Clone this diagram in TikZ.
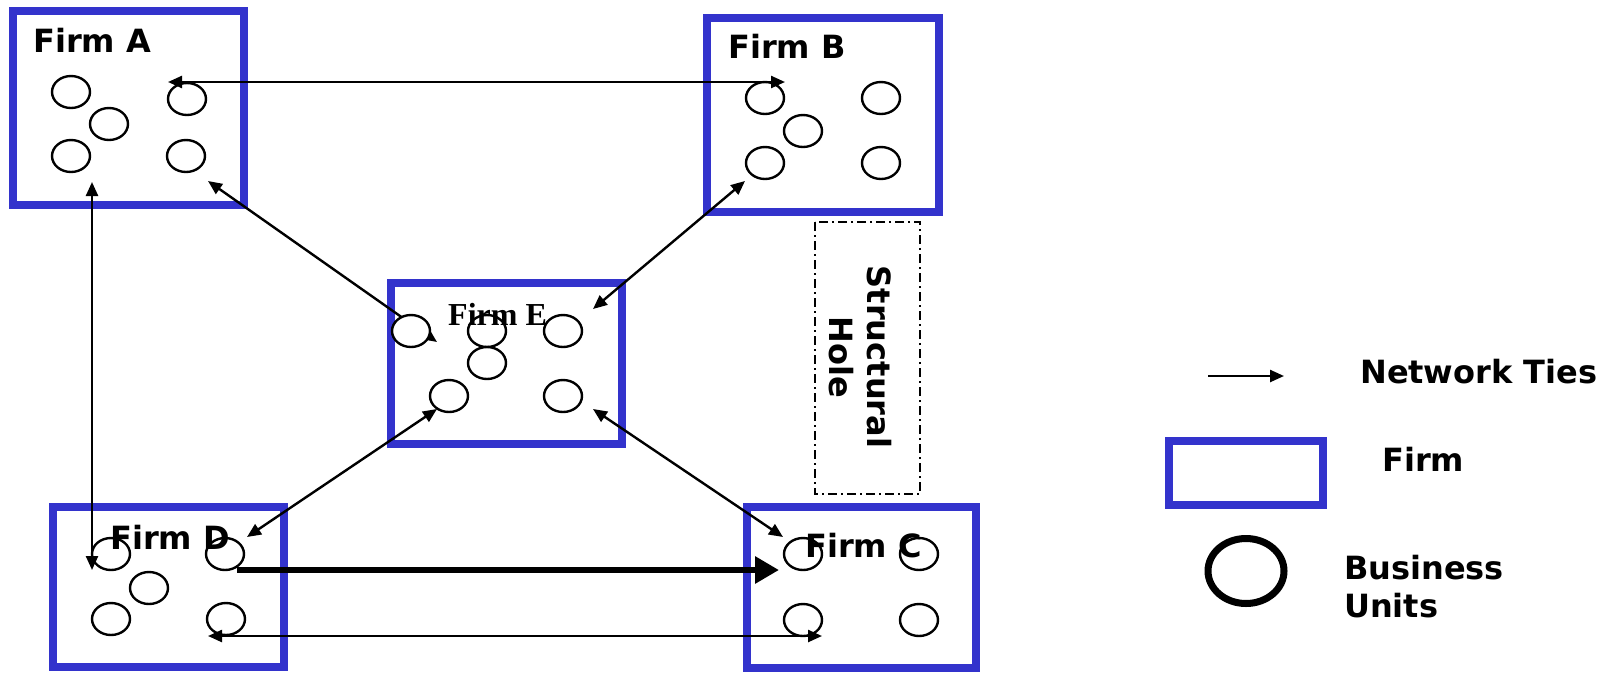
\documentclass[tikz,border=0pt]{standalone}
\usepackage{fontspec}
\setmainfont{DejaVu Sans}
\newfontfamily\timesf{Liberation Serif}
\usetikzlibrary{arrows.meta,shapes.geometric}
\definecolor{firmblue}{RGB}{51,51,204}
\tikzset{
  firmbox/.style={draw=firmblue,line width=8pt,inner sep=0pt,outer sep=0pt,anchor=north west},
  bu/.style={ellipse,draw,line width=2.4pt,fill=white,minimum width=38pt,minimum height=32pt,inner sep=0pt},
  tie/.style={line width=2.4pt,-{Triangle[length=14pt,width=12pt]}},
  tieboth/.style={line width=2.4pt,{Triangle[length=14pt,width=12pt]}-{Triangle[length=14pt,width=12pt]}},
  bigtie/.style={line width=6.5pt,-{Triangle[length=24pt,width=26pt]}},
  lbl/.style={font=\fontsize{32}{38}\selectfont\bfseries,inner sep=0pt,anchor=base west},
}
\begin{document}
\begin{tikzpicture}[x=1pt,y=-1pt]
\useasboundingbox[fill=white] (0,0) rectangle (1609,673);
% firms
\node[firmbox,minimum width=231pt,minimum height=194pt] (A) at (13,11) {};
\node[firmbox,minimum width=232pt,minimum height=194pt] (B) at (707,18) {};
\node[firmbox,minimum width=231pt,minimum height=161pt] (E) at (391,283) {};
\node[firmbox,minimum width=231pt,minimum height=160pt] (D) at (53,507) {};
\node[firmbox,minimum width=229pt,minimum height=161pt] (C) at (747,507) {};
% labels
\node[lbl] (tA) at (33,52) {Firm A};
\node[lbl] (tB) at (728,58) {Firm B};
% arrow E-A (behind units)
\coordinate (eA1) at (208,181);
\coordinate (eA2) at (437,342);
\draw[tieboth] (eA2) -- (eA1);
% business units
\node[bu] (a1) at (71,92) {};
\node[bu] (a2) at (109,124) {};
\node[bu] (a3) at (71,156) {};
\node[bu] (a4) at (187,99) {};
\node[bu] (a5) at (186,156) {};
\node[bu] (b1) at (765,98) {};
\node[bu] (b2) at (803,131) {};
\node[bu] (b3) at (765,163) {};
\node[bu] (b4) at (881,98) {};
\node[bu] (b5) at (881,163) {};
\node[bu] (e1) at (411,331) {};
\node[bu] (e2) at (487,331) {};
\node[bu] (e3) at (487,363) {};
\node[bu] (e4) at (449,396) {};
\node[bu] (e5) at (563,331) {};
\node[bu] (e6) at (563,396) {};
\node[bu] (d1) at (111,554) {};
\node[bu] (d2) at (225,554) {};
\node[bu] (d3) at (149,588) {};
\node[bu] (d4) at (111,619) {};
\node[bu] (d5) at (226,619) {};
\node[bu] (c1) at (803,554) {};
\node[bu] (c2) at (919,554) {};
\node[bu] (c3) at (803,620) {};
\node[bu] (c4) at (919,620) {};
\node[lbl,font=\fontsize{32}{38}\selectfont\timesf\bfseries] (tE) at (448,325) {Firm E};
\node[lbl] (tD) at (110,549) {Firm D};
\node[lbl] (tC) at (805,557) {Firm C};
% connectors
\coordinate (ab1) at (168,82);
\coordinate (ab2) at (785,82);
\draw[tieboth] (ab1) -- (ab2);
\coordinate (ad1) at (92,182);
\coordinate (ad2) at (92,570);
\draw[tieboth] (ad1) -- (ad2);
\coordinate (eb1) at (593,309);
\coordinate (eb2) at (745,181);
\draw[tieboth] (eb1) -- (eb2);
\coordinate (ed1) at (437,409);
\coordinate (ed2) at (247,537);
\draw[tieboth] (ed1) -- (ed2);
\coordinate (ec1) at (593,409);
\coordinate (ec2) at (783,537);
\draw[tieboth] (ec1) -- (ec2);
\coordinate (dc1) at (237,570);
\coordinate (dc2) at (779,570);
\draw[bigtie] (dc1) -- (dc2);
\coordinate (dcb1) at (208,636);
\coordinate (dcb2) at (822,636);
\draw[tieboth] (dcb1) -- (dcb2);
% structural hole
\draw[line width=2pt,dash pattern=on 9pt off 4pt on 2pt off 4pt] (815,222) rectangle (920,494);
\node[lbl,anchor=base,rotate=-90] (sh1) at (867,357) {Structural};
\node[lbl,anchor=base,rotate=-90] (sh2) at (829,357) {Hole};
% legend
\coordinate (lg1) at (1208,376);
\coordinate (lg2) at (1284,376);
\draw[tie] (lg1) -- (lg2);
\node[lbl] (lt1) at (1360,383) {Network Ties};
\node[firmbox,minimum width=154pt,minimum height=64pt] (lf) at (1169,441) {};
\node[lbl] (lt2) at (1382,471) {Firm};
\node[ellipse,draw,line width=7pt,minimum width=76pt,minimum height=65pt,inner sep=0pt] (lb) at (1246,571) {};
\node[lbl] (lt3) at (1344,579) {Business};
\node[lbl] (lt4) at (1344,617) {Units};
\end{tikzpicture}
\end{document}
